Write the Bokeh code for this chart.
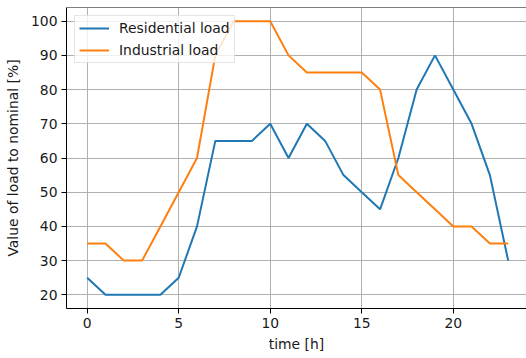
from bokeh.plotting import figure
from bokeh.models import Range1d, FixedTicker, Span, Legend, LegendItem, ColumnDataSource
from bokeh.embed import file_html
from bokeh.resources import INLINE

hours = list(range(24))
residential = [25, 20, 20, 20, 20, 25, 40, 65, 65, 65, 70, 60, 70, 65, 55, 50, 45, 60, 80, 90, 80, 70, 55, 30]
industrial = [35, 35, 30, 30, 40, 50, 60, 90, 100, 100, 100, 90, 85, 85, 85, 85, 80, 55, 50, 45, 40, 40, 35, 35]
x_ticks = [0, 5, 10, 15, 20]
y_ticks = [20, 30, 40, 50, 60, 70, 80, 90, 100]

FONT = "DejaVu Sans"
FS = "13.9px"

p = figure(width=526, height=358, output_backend="svg", toolbar_location=None,
           x_range=Range1d(-1.13, 24.0), y_range=Range1d(16, 104),
           min_border_left=66, min_border_right=0, min_border_top=7, min_border_bottom=50)
p.outline_line_color = None
p.background_fill_color = "white"
p.border_fill_color = "white"

src = ColumnDataSource(dict(h=hours, r=residential, i=industrial))
r1 = p.line("h", "r", source=src, line_color="#1f77b4", line_width=2)
r2 = p.line("h", "i", source=src, line_color="#ff7f0e", line_width=2)

p.add_layout(Span(location=104, dimension="width", line_color="black", line_width=1))

for ax in (p.xaxis[0], p.yaxis[0]):
    ax.axis_line_color = "black"
    ax.axis_line_width = 1
    ax.major_tick_out = 5
    ax.major_tick_in = 0
    ax.minor_tick_line_color = None
    ax.major_tick_line_color = "black"
    ax.major_label_text_font = FONT
    ax.major_label_text_font_size = FS
    ax.major_label_text_color = "#1a1a1a"
    ax.axis_label_text_font = FONT
    ax.axis_label_text_font_size = FS
    ax.axis_label_text_font_style = "normal"
    ax.axis_label_text_color = "#1a1a1a"
    ax.major_label_standoff = 4

p.xaxis[0].ticker = FixedTicker(ticks=x_ticks)
p.yaxis[0].ticker = FixedTicker(ticks=y_ticks)
p.xaxis[0].axis_label = "time [h]"
p.yaxis[0].axis_label = "Value of load to nominal [%]"
p.xaxis[0].axis_label_standoff = 5
p.yaxis[0].axis_label_standoff = 7

for g in (p.xgrid[0], p.ygrid[0]):
    g.grid_line_color = "#b0b0b0"
    g.grid_line_width = 1

legend = Legend(items=[LegendItem(label="Residential load", renderers=[r1]),
                       LegendItem(label="Industrial load", renderers=[r2])],
                location="top_left")
legend.margin = 8
legend.padding = 4
legend.spacing = 6
legend.glyph_width = 30
legend.glyph_height = 14
legend.label_height = 14
legend.label_standoff = 10
legend.label_text_font = FONT
legend.label_text_font_size = FS
legend.label_text_color = "#1a1a1a"
legend.border_line_color = "#cccccc"
legend.border_line_width = 1
legend.background_fill_alpha = 0.8
p.add_layout(legend)

open("out.html", "w").write(file_html(p, INLINE))
